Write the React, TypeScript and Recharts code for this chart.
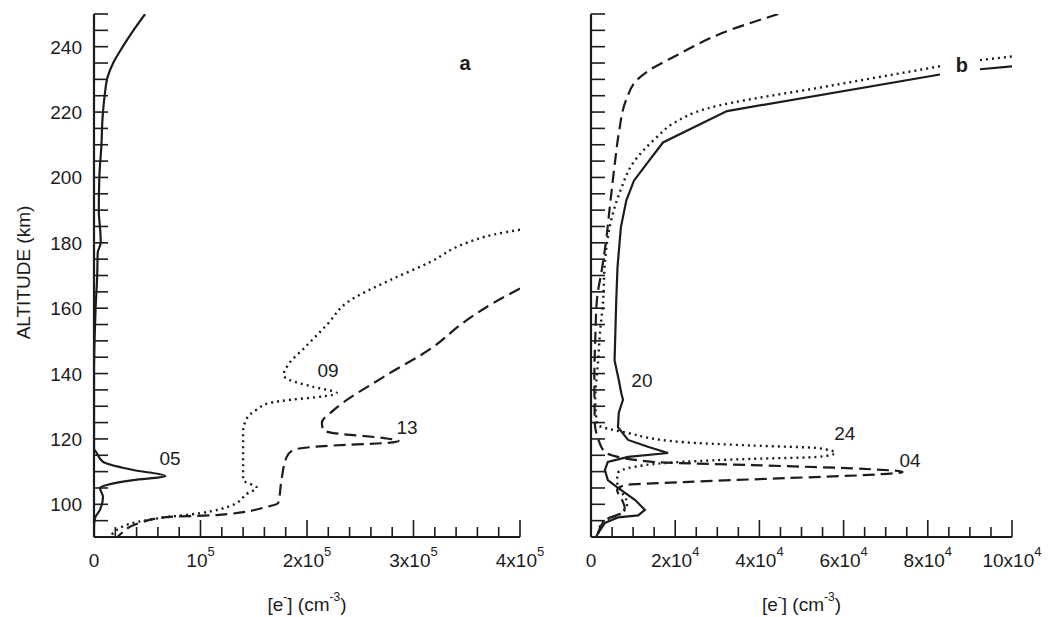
import React from 'react';
import { ScatterChart, Scatter, XAxis, YAxis, ReferenceDot } from 'recharts';

const INK = '#1c1c1c';
const FONT = '"Liberation Sans", Arial, Helvetica, sans-serif';

// altitude axis, km (ticks every 5 km, labels every 20)
const altTicks = [
  90, 95, 100, 105, 110, 115, 120, 125, 130, 135, 140, 145, 150, 155, 160, 165, 170,
  175, 180, 185, 190, 195, 200, 205, 210, 215, 220, 225, 230, 235, 240, 245, 250,
];
const altLabels = [100, 120, 140, 160, 180, 200, 220, 240];

// panel a density axis
const aTicks = [
  0, 20000, 40000, 60000, 80000, 100000, 120000, 140000, 160000, 180000, 200000,
  220000, 240000, 260000, 280000, 300000, 320000, 340000, 360000, 380000, 400000,
];
const aLabels = [
  { value: 0, base: '0', exp: '' },
  { value: 100000, base: '10', exp: '5' },
  { value: 200000, base: '2x10', exp: '5' },
  { value: 300000, base: '3x10', exp: '5' },
  { value: 400000, base: '4x10', exp: '5' },
];

// panel b density axis
const bTicks = [
  0, 5000, 10000, 15000, 20000, 25000, 30000, 35000, 40000, 45000, 50000, 55000,
  60000, 65000, 70000, 75000, 80000, 85000, 90000, 95000, 100000,
];
const bLabels = [
  { value: 0, base: '0', exp: '' },
  { value: 20000, base: '2x10', exp: '4' },
  { value: 40000, base: '4x10', exp: '4' },
  { value: 60000, base: '6x10', exp: '4' },
  { value: 80000, base: '8x10', exp: '4' },
  { value: 100000, base: '10x10', exp: '4' },
];

// panel a profiles
const profile05 = [
  { alt: 250, ne: 48000 }, { alt: 245, ne: 37000 }, { alt: 240, ne: 27000 },
  { alt: 235, ne: 18000 }, { alt: 231, ne: 13000 }, { alt: 225, ne: 10000 },
  { alt: 218, ne: 8000 }, { alt: 210, ne: 7000 }, { alt: 200, ne: 5000 },
  { alt: 190, ne: 4500 }, { alt: 183, ne: 6000 }, { alt: 180, ne: 6300 },
  { alt: 177, ne: 3500 }, { alt: 170, ne: 3000 }, { alt: 160, ne: 1500 },
  { alt: 150, ne: 500 }, { alt: 140, ne: 0 }, { alt: 117, ne: 0 },
  { alt: 116, ne: 2000 }, { alt: 113, ne: 8500 }, { alt: 110.5, ne: 37000 },
  { alt: 108.6, ne: 67000 }, { alt: 107.4, ne: 37000 }, { alt: 105.9, ne: 12000 },
  { alt: 105, ne: 5600 }, { alt: 102.2, ne: 8500 }, { alt: 98.3, ne: 5600 },
  { alt: 95.8, ne: 1000 }, { alt: 93, ne: 0 }, { alt: 90, ne: 0 },
];

const profile09 = [
  { alt: 184, ne: 400000 }, { alt: 182.5, ne: 375000 }, { alt: 180, ne: 350000 },
  { alt: 174, ne: 315000 }, { alt: 168.6, ne: 278000 }, { alt: 161.6, ne: 237000 },
  { alt: 155.4, ne: 220000 }, { alt: 148, ne: 198000 }, { alt: 143, ne: 183000 },
  { alt: 139.5, ne: 178000 }, { alt: 138, ne: 184000 }, { alt: 136, ne: 205000 },
  { alt: 134, ne: 228000 }, { alt: 133, ne: 215000 }, { alt: 132, ne: 185000 },
  { alt: 131, ne: 165000 }, { alt: 129, ne: 153000 }, { alt: 126, ne: 143000 },
  { alt: 122, ne: 140000 }, { alt: 107.5, ne: 140000 }, { alt: 105, ne: 153000 },
  { alt: 103.5, ne: 145000 }, { alt: 99.5, ne: 128000 }, { alt: 97.3, ne: 100000 },
  { alt: 95.8, ne: 62000 }, { alt: 94.3, ne: 37000 }, { alt: 91.2, ne: 18000 },
  { alt: 90, ne: 15000 },
];

const profile13 = [
  { alt: 166, ne: 400000 }, { alt: 161.6, ne: 375000 }, { alt: 155.4, ne: 346000 },
  { alt: 148, ne: 318000 }, { alt: 139, ne: 272000 }, { alt: 128.8, ne: 225000 },
  { alt: 125, ne: 214000 }, { alt: 122.7, ne: 215000 }, { alt: 121.8, ne: 225000 },
  { alt: 120.3, ne: 271000 }, { alt: 119.4, ne: 286000 }, { alt: 118.7, ne: 271000 },
  { alt: 118, ne: 225000 }, { alt: 116.6, ne: 187000 }, { alt: 114.5, ne: 181000 },
  { alt: 107.4, ne: 176000 }, { alt: 100.4, ne: 173000 }, { alt: 99.2, ne: 162000 },
  { alt: 96.7, ne: 115000 }, { alt: 96.1, ne: 68000 }, { alt: 94.3, ne: 43000 },
  { alt: 90.6, ne: 24000 }, { alt: 90, ne: 22000 },
];

// panel b profiles (the 20 and 24 curves break around the "b" tag)
const profile20 = [
  { alt: 231.5, ne: 82900 }, { alt: 220.3, ne: 32300 }, { alt: 210.7, ne: 17100 },
  { alt: 204.3, ne: 13300 }, { alt: 199, ne: 10200 }, { alt: 193, ne: 8400 },
  { alt: 184.8, ne: 7100 }, { alt: 172.6, ne: 6300 }, { alt: 162.5, ne: 6000 },
  { alt: 144, ne: 5600 }, { alt: 138, ne: 6600 }, { alt: 134, ne: 7200 },
  { alt: 132, ne: 7600 }, { alt: 128, ne: 6600 }, { alt: 123.6, ne: 6400 },
  { alt: 119.7, ne: 8800 }, { alt: 117.6, ne: 13500 }, { alt: 115.7, ne: 18300 },
  { alt: 114.5, ne: 8800 }, { alt: 113, ne: 4000 }, { alt: 110.5, ne: 3300 },
  { alt: 107.4, ne: 4000 }, { alt: 105, ne: 6400 }, { alt: 101.3, ne: 10500 },
  { alt: 98.3, ne: 12800 }, { alt: 96.6, ne: 11200 }, { alt: 96, ne: 6400 },
  { alt: 94.3, ne: 3300 }, { alt: 91.2, ne: 1700 }, { alt: 90, ne: 1200 },
];
const profile20Tail = [{ alt: 233.1, ne: 92400 }, { alt: 234, ne: 100000 }];

const profile24 = [
  { alt: 234, ne: 82900 }, { alt: 228.2, ne: 57500 }, { alt: 221.1, ne: 27600 },
  { alt: 216.5, ne: 19500 }, { alt: 212.4, ne: 15700 }, { alt: 204.4, ne: 10000 },
  { alt: 196, ne: 7000 }, { alt: 187, ne: 4800 }, { alt: 180, ne: 3800 },
  { alt: 172, ne: 3200 }, { alt: 162.5, ne: 2900 }, { alt: 152, ne: 2100 },
  { alt: 144, ne: 1700 }, { alt: 132, ne: 1000 }, { alt: 124.5, ne: 1500 },
  { alt: 121.8, ne: 8800 }, { alt: 119, ne: 22000 }, { alt: 118, ne: 38000 },
  { alt: 117.2, ne: 54000 }, { alt: 115.7, ne: 58000 }, { alt: 114.5, ne: 54000 },
  { alt: 113.9, ne: 38000 }, { alt: 113, ne: 22000 }, { alt: 111.5, ne: 10500 },
  { alt: 109.6, ne: 6400 }, { alt: 106.9, ne: 6200 }, { alt: 103.5, ne: 7400 },
  { alt: 100.4, ne: 8600 }, { alt: 97.3, ne: 7400 }, { alt: 96.1, ne: 5000 },
  { alt: 94.3, ne: 2600 }, { alt: 90, ne: 1500 },
];
const profile24Tail = [{ alt: 235.9, ne: 92400 }, { alt: 237, ne: 100000 }];

const profile04 = [
  { alt: 250, ne: 44500 }, { alt: 244.1, ne: 31000 }, { alt: 237.4, ne: 20400 },
  { alt: 232.5, ne: 13500 }, { alt: 229.8, ne: 10900 }, { alt: 224.2, ne: 8500 },
  { alt: 213.5, ne: 6600 }, { alt: 204.7, ne: 5700 }, { alt: 189, ne: 4300 },
  { alt: 180.8, ne: 3600 }, { alt: 172, ne: 2600 }, { alt: 162.5, ne: 1400 },
  { alt: 150, ne: 1000 }, { alt: 140, ne: 800 }, { alt: 125, ne: 900 },
  { alt: 120, ne: 1700 }, { alt: 116, ne: 3300 }, { alt: 113, ne: 14500 },
  { alt: 112, ne: 38000 }, { alt: 111, ne: 62000 }, { alt: 109.9, ne: 74000 },
  { alt: 109, ne: 66000 }, { alt: 108, ne: 46000 }, { alt: 106.8, ne: 22000 },
  { alt: 105.9, ne: 8000 }, { alt: 104.4, ne: 6200 }, { alt: 101.3, ne: 7400 },
  { alt: 98.9, ne: 8000 }, { alt: 96.7, ne: 6200 }, { alt: 95.2, ne: 3300 },
  { alt: 90, ne: 1500 },
];

// curve tags, in data coordinates
const notesA = [
  { text: '05', ne: 71400, alt: 114.2, bold: false },
  { text: '09', ne: 219700, alt: 141.1, bold: false },
  { text: '13', ne: 293900, alt: 123.6, bold: false },
  { text: 'a', ne: 348400, alt: 235, bold: true },
];
const notesB = [
  { text: '20', ne: 12100, alt: 138, bold: false },
  { text: '24', ne: 60300, alt: 121.8, bold: false },
  { text: '04', ne: 75800, alt: 113.5, bold: false },
  { text: 'b', ne: 88100, alt: 234.3, bold: true },
];

type TickLabel = { value: number; base: string; exp: string };

const solid = { stroke: INK, strokeWidth: 2.2 };
const dotted = { stroke: INK, strokeWidth: 2.4, strokeDasharray: '2 4' };
const dashed = { stroke: INK, strokeWidth: 2.2, strokeDasharray: '12 6' };

const bottomTick = (labels: TickLabel[]) => (props: any) => {
  const { x, y, payload } = props;
  const lab = labels.find((l) => l.value === payload.value);
  return (
    <g>
      <line x1={x} y1={y} x2={x} y2={y - (lab ? 17 : 10)} stroke={INK} strokeWidth={1.6} />
      {lab && (
        <text x={x} y={y + 30} textAnchor="middle" fontSize={19} fill={INK} fontFamily={FONT}>
          {lab.base}
          {lab.exp && (
            <tspan dy={-11} fontSize={13}>
              {lab.exp}
            </tspan>
          )}
        </text>
      )}
    </g>
  );
};

const topTick = (labels: TickLabel[]) => (props: any) => {
  const { x, y, payload } = props;
  const major = labels.some((l) => l.value === payload.value);
  return <line x1={x} y1={y} x2={x} y2={y + (major ? 17 : 10)} stroke={INK} strokeWidth={1.6} />;
};

const leftTick = (withLabels: boolean) => (props: any) => {
  const { x, y, payload } = props;
  const labelled = withLabels && altLabels.includes(payload.value);
  return (
    <g>
      <line x1={x} y1={y} x2={x + 14} y2={y} stroke={INK} strokeWidth={1.6} />
      {labelled && (
        <text x={x - 12} y={y + 7} textAnchor="end" fontSize={19} fill={INK} fontFamily={FONT}>
          {payload.value}
        </text>
      )}
    </g>
  );
};

const rightTick = (props: any) => {
  const { x, y } = props;
  return <line x1={x} y1={y} x2={x - 14} y2={y} stroke={INK} strokeWidth={1.6} />;
};

const xTitle = (props: any) => {
  const vb = props.viewBox;
  return (
    <text x={vb.x + vb.width / 2} y={vb.y + 74} textAnchor="middle" fontSize={19} fill={INK} fontFamily={FONT}>
      [e
      <tspan dy={-10} fontSize={12}>-</tspan>
      <tspan dy={10}>] (cm</tspan>
      <tspan dy={-10} fontSize={12}>-3</tspan>
      <tspan dy={10}>)</tspan>
    </text>
  );
};

const yTitle = (props: any) => {
  const vb = props.viewBox;
  const cy = vb.y + vb.height / 2 - 3;
  return (
    <text x={30} y={cy} transform={`rotate(-90, 30, ${cy})`} textAnchor="middle" fontSize={19} fill={INK} fontFamily={FONT}>
      ALTITUDE (km)
    </text>
  );
};

const noShape = () => <g />;
const axisLine = { stroke: INK, strokeWidth: 2.2 };

type Note = { text: string; ne: number; alt: number; bold: boolean };

const notes = (list: Note[]) =>
  list.map((n) => (
    <ReferenceDot
      key={n.text}
      xAxisId="bottom"
      yAxisId="left"
      x={n.ne}
      y={n.alt}
      r={0}
      fill="none"
      stroke="none"
      label={{
        value: n.text,
        position: 'center',
        fontSize: n.bold ? 20 : 19,
        fontWeight: n.bold ? 'bold' : 'normal',
        fill: INK,
        fontFamily: FONT,
      }}
    />
  ));

const Axes = ({ ticks, labels, max, leftWidth, withLabels }: any) => [
  <XAxis
    key="xb"
    xAxisId="bottom"
    orientation="bottom"
    type="number"
    dataKey="ne"
    domain={[0, max]}
    allowDataOverflow
    ticks={ticks}
    interval={0}
    tickSize={0}
    tickMargin={0}
    tickLine={false}
    axisLine={axisLine}
    height={80}
    tick={bottomTick(labels)}
    label={{ content: xTitle }}
  />,
  <XAxis
    key="xt"
    xAxisId="top"
    orientation="top"
    type="number"
    dataKey="ne"
    domain={[0, max]}
    allowDataOverflow
    ticks={ticks}
    interval={0}
    tickSize={0}
    tickMargin={0}
    tickLine={false}
    axisLine={axisLine}
    height={0}
    tick={topTick(labels)}
  />,
  <YAxis
    key="yl"
    yAxisId="left"
    orientation="left"
    type="number"
    dataKey="alt"
    domain={[90, 250]}
    allowDataOverflow
    ticks={altTicks}
    interval={0}
    tickSize={0}
    tickMargin={0}
    tickLine={false}
    axisLine={axisLine}
    width={leftWidth}
    tick={leftTick(withLabels)}
    label={withLabels ? { content: yTitle } : undefined}
  />,
  <YAxis
    key="yr"
    yAxisId="right"
    orientation="right"
    type="number"
    dataKey="alt"
    domain={[90, 250]}
    allowDataOverflow
    ticks={altTicks}
    interval={0}
    tickSize={0}
    tickMargin={0}
    tickLine={false}
    axisLine={axisLine}
    width={0}
    tick={rightTick}
  />,
];

const series = (data: any[], line: any, key: string, joint = 'monotoneY') => (
  <Scatter
    key={key}
    xAxisId="bottom"
    yAxisId="left"
    data={data}
    line={line}
    lineJointType={joint as any}
    shape={noShape}
    isAnimationActive={false}
  />
);

export default function App() {
  return (
    <div style={{ position: 'absolute', left: 0, top: 0, width: 1053, height: 617, background: '#fff', fontFamily: FONT }}>
      <div style={{ position: 'absolute', left: 0, top: 0 }}>
        <ScatterChart width={560} height={617} margin={{ top: 14, right: 40, bottom: 0, left: 0 }}>
          {Axes({ ticks: aTicks, labels: aLabels, max: 400000, leftWidth: 94, withLabels: true })}
          {series(profile05, solid, 's05')}
          {series(profile09, dotted, 's09')}
          {series(profile13, dashed, 's13')}
          {notes(notesA)}
        </ScatterChart>
      </div>
      <div style={{ position: 'absolute', left: 530, top: 0 }}>
        <ScatterChart width={523} height={617} margin={{ top: 14, right: 41, bottom: 0, left: 0 }}>
          {Axes({ ticks: bTicks, labels: bLabels, max: 100000, leftWidth: 61, withLabels: false })}
          {series(profile20, solid, 's20', 'linear')}
          {series(profile20Tail, solid, 's20t', 'linear')}
          {series(profile24, dotted, 's24')}
          {series(profile24Tail, dotted, 's24t', 'linear')}
          {series(profile04, dashed, 's04')}
          {notes(notesB)}
        </ScatterChart>
      </div>
    </div>
  );
}
